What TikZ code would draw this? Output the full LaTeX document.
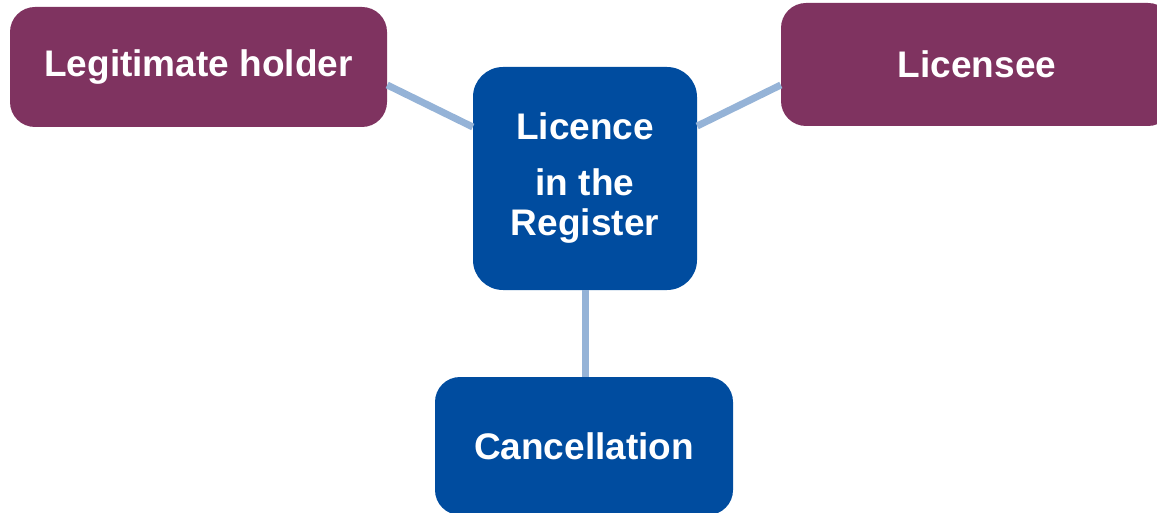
\documentclass[tikz,border=0pt]{standalone}
\usepackage{fontspec}
\setmainfont{Liberation Sans}
\usepackage{tikz}
\usepackage{xcolor}
\definecolor{plum}{HTML}{7F3360}
\definecolor{regblue}{HTML}{004C9F}
\definecolor{linkblue}{HTML}{95B3D7}
\tikzset{
    plum-box/.style = {fill=plum, text=white, rectangle, rounded corners=25pt, inner sep=0pt, font=\fontsize{37}{40}\selectfont\bfseries},
    blue-box/.style = {fill=regblue, text=white, rectangle, rounded corners=25pt, inner sep=0pt, align=center, font=\fontsize{37}{40}\selectfont\bfseries},
    link-line/.style = {draw=linkblue, line width=7pt},
}
\begin{document}
\begin{tikzpicture}[x=1pt,y=1pt]
\useasboundingbox (0,0) rectangle (1157,-513);
\node [plum-box, minimum width=377pt, minimum height=120pt] (holder) at (198.5,-67) {Legitimate holder};
\node [plum-box, minimum width=392pt, minimum height=123pt] (licensee) at (977,-64.5) {Licensee};
\node [blue-box, rounded corners=30pt, minimum width=224pt, minimum height=223pt] (licence) at (585,-178.5) {Licence\\[16pt] in the\\ Register};
\node [blue-box, minimum width=298pt, minimum height=138pt] (cancel) at (584,-446) {Cancellation};
\draw [link-line] ([yshift=-18pt]holder.east) -- ([yshift=51.5pt]licence.west);
\draw [link-line] ([yshift=52.5pt]licence.east) -- ([yshift=-20.5pt]licensee.west);
\draw [link-line] (licence.south) -- (licence.south |- cancel.north);
\end{tikzpicture}
\end{document}
